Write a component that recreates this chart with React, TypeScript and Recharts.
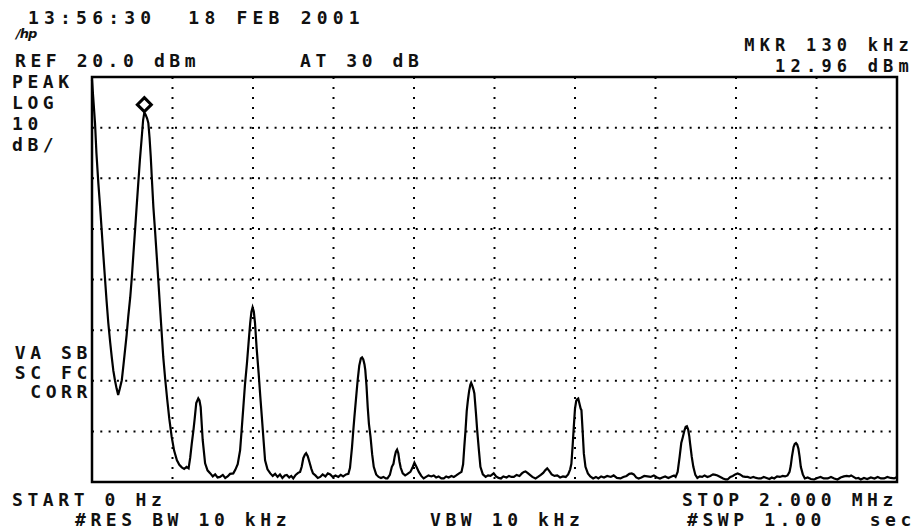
import { LineChart, Line, XAxis, YAxis, CartesianGrid, ReferenceArea, ReferenceDot } from 'recharts'

// sweep readout: frequency in kHz, level in dBm
const trace: [number, number][] = [
  [0, 19.4], [3, 16], [7.5, 10.9], [11, 5], [15.7, -0.9], [20, -5.5], [24, -10.2], [28, -15],
  [32, -19.5], [36, -24], [40.5, -28.6], [45, -32.3], [49, -35.3], [53, -38], [57, -39.9],
  [61, -41.5], [65, -42.8], [69, -41.6], [74, -39.9], [78, -37], [82, -34], [86, -31],
  [90, -27.4], [95, -23.5], [99, -19.5], [103, -14.8], [107, -10.2], [111, -5.5], [115, -0.9],
  [119, 3.6], [123.6, 8.1], [127, 11.5], [130, 12.96], [133, 12.6], [137, 11.8], [140, 10.9],
  [143, 8], [146, 4.2], [149, -0.5], [152.5, -5.7], [157, -10.8], [161, -15.6], [165, -20.5],
  [169, -25.5], [173, -30.4], [177, -35.3], [182, -39.8], [187, -43.8], [192, -47.5],
  [198, -51.1], [204, -53.8], [211, -55.7], [217, -56.6], [223, -57.1], [229, -57.4],
  [235, -57.0], [240, -57.3], [244, -55.2], [248, -52.3], [252, -49.8], [255, -47.6],
  [259, -44.4], [264, -43.5], [267, -43.9], [270, -45.2], [275, -51.7], [281, -56.3],
  [287, -57.7], [294, -58.3], [300, -58.9], [306, -58.5], [312, -59.1], [318, -59.0],
  [325, -58.6], [331, -59.2], [337, -58.9], [343, -58.4], [351, -58.3], [356, -57.6],
  [362, -56.5], [368, -53.7], [372, -49.5], [376, -45.2], [380, -40.8], [385, -36.5],
  [389, -32.5], [393, -28.6], [396, -26.4], [399, -25.5], [402, -26.3], [405, -28.6],
  [409, -33.5], [414, -38.5], [418, -43], [422, -47.2], [426, -51.5], [430, -55.7],
  [436, -57.5], [443, -58.3], [449, -58.8], [455, -58.4], [461, -59.0], [467, -58.5],
  [473, -59.2], [479, -58.7], [484, -58.6], [490, -59.1], [495, -58.8], [500, -59.3],
  [506, -58.6], [512, -58.2], [517, -58.0], [521, -57.0], [525, -55.3], [529, -54.6],
  [532, -54.3], [536, -54.9], [540, -56.0], [545, -57.4], [549, -58.3], [555, -58.7],
  [561, -59.2], [567, -59.0], [573, -58.5], [580, -58.9], [586, -58.3], [592, -58.5],
  [598, -59.0], [605, -58.7], [612, -59.0], [618, -58.6], [624, -58.9], [631, -58.5],
  [637, -58.4], [641, -57.2], [646, -53.1], [649, -50.0], [652, -47.1], [656, -43.5],
  [660, -39.9], [664, -37.0], [668, -35.6], [671, -35.4], [674, -35.8], [677, -36.8],
  [679, -37.9], [682, -41.0], [685, -45.2], [688, -48.5], [692, -51.1], [696, -54.5],
  [700, -57.0], [706, -58.5], [712, -59.0], [718, -59.2], [724, -59.0], [730, -59.3],
  [734, -59.3], [740, -58.6], [745, -57.0], [749, -56.4], [752, -55.0], [755, -54.0],
  [758, -53.6], [761, -54.3], [764, -56.0], [767, -57.2], [772, -58.3], [778, -58.7],
  [784, -58.4], [791, -58.0], [796, -57.2], [801, -56.2], [806, -57.0], [812, -58.0],
  [818, -58.8], [824, -59.3], [830, -59.0], [836, -58.7], [843, -58.9], [849, -58.7],
  [855, -59.1], [861, -58.9], [868, -59.3], [874, -59.3], [880, -58.9], [886, -59.1],
  [893, -58.8], [899, -59.0], [905, -58.7], [912, -58.3], [918, -58.0], [922, -56.5],
  [925, -53.0], [928, -49.8], [931, -46.0], [934, -43.8], [937, -42.0], [940, -40.8],
  [942, -40.4], [945, -41.0], [948, -41.8], [950, -42.5], [954, -46.5], [957, -49.8],
  [961, -53.5], [965, -57.0], [971, -58.5], [978, -59.0], [984, -58.7], [990, -58.8],
  [998, -58.3], [1004, -58.9], [1010, -59.2], [1016, -59.3], [1022, -58.9], [1030, -59.1],
  [1036, -58.8], [1042, -59.0], [1048, -59.0], [1055, -58.6], [1062, -58.8], [1068, -58.3],
  [1073, -58.0], [1077, -57.9], [1082, -58.2], [1088, -58.6], [1094, -59.0], [1102, -59.3],
  [1108, -59.0], [1115, -58.6], [1121, -58.2], [1126, -57.7], [1131, -57.3], [1136, -57.8],
  [1142, -58.5], [1149, -58.8], [1156, -58.7], [1163, -59.1], [1170, -58.9], [1177, -59.0],
  [1183, -58.5], [1188, -57.5], [1191, -56.4], [1194, -53.0], [1197, -49.1], [1200, -45.5],
  [1203, -44.0], [1206, -43.6], [1208, -43.5], [1211, -44.5], [1214, -45.5], [1216, -45.8],
  [1219, -50.0], [1222, -54.4], [1226, -57.0], [1232, -58.3], [1238, -58.9], [1245, -59.3],
  [1252, -59.0], [1258, -59.3], [1265, -58.9], [1272, -59.1], [1280, -58.8], [1289, -59.0],
  [1296, -58.7], [1304, -59.2], [1313, -59.3], [1320, -59.0], [1328, -58.8], [1335, -58.4],
  [1341, -58.3], [1346, -58.5], [1352, -59.1], [1358, -59.3], [1365, -59.1], [1372, -58.8],
  [1380, -58.9], [1388, -59.0], [1396, -58.7], [1404, -59.1], [1411, -59.3], [1417, -59.1],
  [1424, -58.9], [1432, -59.2], [1440, -58.9], [1446, -58.7], [1450, -59.0], [1455, -58.0],
  [1460, -55.0], [1464, -52.3], [1468, -51.1], [1472, -49.8], [1475, -49.1], [1478, -49.0],
  [1481, -49.6], [1484, -51.0], [1486, -52.4], [1490, -55.0], [1494, -57.0], [1499, -58.6],
  [1504, -59.2], [1510, -58.9], [1516, -59.0], [1522, -58.7], [1529, -59.0], [1536, -58.8],
  [1543, -58.5], [1549, -58.6], [1554, -58.7], [1561, -59.0], [1568, -59.3], [1574, -59.5],
  [1579, -59.5], [1586, -59.0], [1592, -58.8], [1598, -58.5], [1604, -58.3], [1610, -58.5],
  [1617, -58.9], [1623, -59.0], [1629, -59.0], [1636, -59.2], [1643, -59.0], [1650, -59.2],
  [1656, -59.3], [1662, -59.3], [1669, -59.0], [1676, -59.2], [1683, -59.4], [1689, -59.1],
  [1695, -59.3], [1702, -58.9], [1709, -59.0], [1716, -58.8], [1722, -58.9], [1728, -58.7],
  [1733, -58.0], [1736, -56.8], [1739, -55.0], [1743, -53.1], [1746, -52.5], [1749, -52.3],
  [1752, -52.6], [1755, -53.4], [1758, -55.0], [1761, -57.0], [1766, -58.5], [1771, -59.3],
  [1778, -59.1], [1786, -59.4], [1794, -59.5], [1802, -59.2], [1810, -59.0], [1818, -59.3],
  [1828, -59.3], [1836, -59.0], [1844, -59.3], [1852, -59.5], [1860, -59.1], [1868, -58.9],
  [1875, -58.8], [1881, -58.9], [1886, -58.7], [1892, -59.0], [1898, -59.3], [1904, -59.2],
  [1910, -59.5], [1918, -59.2], [1926, -59.4], [1935, -59.1], [1944, -59.3], [1952, -59.0],
  [1960, -59.3], [1968, -59.3], [1976, -59.0], [1984, -59.2], [1993, -59.3], [2000, -59.0],
]

const xTicks = [0, 200, 400, 600, 800, 1000, 1200, 1400, 1600, 1800, 2000]
const yTicks = [-60, -50, -40, -30, -20, -10, 0, 10, 20]
const marker = { f: 130, dbm: 12.96 }

const timestamp = '13:56:30  18 FEB 2001'
const refLine = 'REF 20.0 dBm'
const attenLine = 'AT 30 dB'
const mkrFreq = 'MKR 130 kHz'
const mkrLevel = '12.96 dBm'
const leftTop = ['PEAK', 'LOG', '10', 'dB/']
const leftBottom = ['VA SB', 'SC FC', 'CORR']
const startLine = 'START 0 Hz'
const stopLine = 'STOP 2.000 MHz'
const rbwLine = '#RES BW 10 kHz'
const vbwLine = 'VBW 10 kHz'
const swpLine = ['#SWP 1.00', 'sec']

const data = trace.map(([f, dbm]) => ({ f, dbm }))

const txt = {
  fontFamily: '"DejaVu Sans Mono", monospace',
  fontSize: 18,
  fontWeight: 700,
  letterSpacing: 4.6,
  fill: '#111',
  style: { whiteSpace: 'pre' },
} as const

function Diamond(p: any) {
  const cx = p.cx, cy = p.cy - 8
  const s = 7
  return (
    <path d={`M${cx},${cy - s} L${cx + s},${cy} L${cx},${cy + s} L${cx - s},${cy} Z`}
      fill="#fff" stroke="#000" strokeWidth={3} />
  )
}

export default function App() {
  return (
    <div style={{ position: 'absolute', left: 0, top: 0, width: 918, height: 531, background: '#fff', overflow: 'hidden' }}>
      <LineChart width={918} height={531} data={data}
        margin={{ top: 77, right: 21, bottom: 49, left: 92 }}>
        <XAxis dataKey="f" type="number" domain={[0, 2000]} ticks={xTicks} hide />
        <YAxis type="number" domain={[-60, 20]} ticks={yTicks} hide allowDataOverflow />
        <CartesianGrid vertical={false} stroke="#000" strokeWidth={2} strokeDasharray="2 6.3" />
        <CartesianGrid horizontal={false} stroke="#000" strokeWidth={2} strokeDasharray="2 8" />
        <ReferenceArea x1={0} x2={2000} y1={-60} y2={20} fill="none" stroke="#000" strokeWidth={2.5} />
        <Line dataKey="dbm" type="linear" stroke="#000" strokeWidth={2.2} dot={false}
          isAnimationActive={false} />
        <ReferenceDot x={marker.f} y={marker.dbm} r={0} shape={Diamond} />
      </LineChart>

      <svg width={918} height={531} style={{ position: 'absolute', left: 0, top: 0, pointerEvents: 'none' }}>
        <text x={28} y={24} {...txt} letterSpacing={5.2}>{timestamp}</text>
        <text x={16} y={38} fontFamily="DejaVu Sans" fontSize={13} fontStyle="italic" fontWeight={700}
          fill="#111" letterSpacing={-1}>/hp</text>
        <text x={15} y={67} {...txt}>{refLine}</text>
        <text x={300} y={67} {...txt}>{attenLine}</text>
        <text x={914} y={51} textAnchor="end" {...txt} fontSize={17} letterSpacing={5.2}>{mkrFreq}</text>
        <text x={914} y={72} textAnchor="end" {...txt} fontSize={17} letterSpacing={5.2}>{mkrLevel}</text>
        {leftTop.map((s, i) => (
          <text key={s} x={12} y={88 + i * 21} {...txt}>{s}</text>
        ))}
        {leftBottom.map((s, i) => (
          <text key={s} x={92} y={359 + i * 19.5} textAnchor="end" {...txt}>{s}</text>
        ))}
        <text x={12} y={506} {...txt}>{startLine}</text>
        <text x={75} y={526} {...txt}>{rbwLine}</text>
        <text x={430} y={526} {...txt}>{vbwLine}</text>
        <text x={898} y={506} textAnchor="end" {...txt}>{stopLine}</text>
        <text x={687} y={526} {...txt}>{swpLine[0]}</text>
        <text x={916} y={526} textAnchor="end" {...txt}>{swpLine[1]}</text>
      </svg>
    </div>
  )
}
